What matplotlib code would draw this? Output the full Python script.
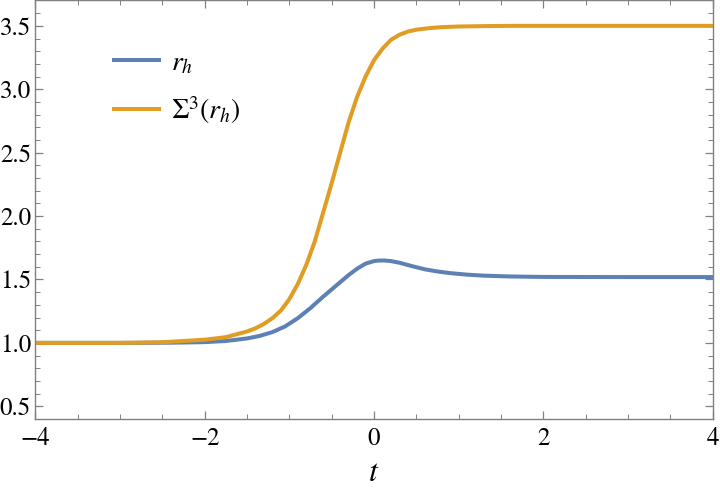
import matplotlib.pyplot as plt
from matplotlib.ticker import MultipleLocator

plt.rcParams["font.family"] = ["STIXGeneral", "DejaVu Serif"]
plt.rcParams["mathtext.fontset"] = "stix"

# values
T_RH = [-4.0, -3.0, -2.5, -2.25, -2.0, -1.75, -1.5, -1.35, -1.2, -1.05, -0.9,
        -0.75, -0.6, -0.45, -0.3, -0.2, -0.1, 0.0, 0.05, 0.12, 0.2, 0.3, 0.45,
        0.6, 0.75, 0.9, 1.1, 1.3, 1.6, 2.0, 3.0, 4.0]
RH = [1.0, 1.0, 1.001, 1.003, 1.006, 1.015, 1.035, 1.055, 1.085, 1.13, 1.195,
      1.275, 1.365, 1.45, 1.535, 1.585, 1.625, 1.645, 1.649, 1.65, 1.645, 1.632, 1.605,
      1.58, 1.563, 1.55, 1.538, 1.53, 1.524, 1.52, 1.519, 1.519]

T_SIG = [-4.0, -3.0, -2.5, -2.0, -1.75, -1.5, -1.4, -1.3, -1.2, -1.1, -1.0,
         -0.9, -0.8, -0.7, -0.6, -0.5, -0.4, -0.3, -0.2, -0.1, 0.0, 0.1, 0.2,
         0.3, 0.4, 0.5, 0.65, 0.8, 1.0, 1.3, 1.6, 2.0, 3.0, 4.0]
SIG3 = [1.0, 1.0, 1.005, 1.025, 1.045, 1.09, 1.115, 1.15, 1.195, 1.255, 1.345,
        1.465, 1.615, 1.80, 2.03, 2.26, 2.50, 2.74, 2.94, 3.10, 3.23, 3.32, 3.39,
        3.43, 3.455, 3.47, 3.482, 3.49, 3.495, 3.498, 3.5, 3.5, 3.5, 3.5]

BLUE = "#5e81b5"
ORANGE = "#e19c24"
FRAME = "#808080"


def main():
    fig = plt.figure(figsize=(7.2, 4.97), dpi=100)
    ax = fig.add_axes([0.049, 0.157, 0.941, 0.842])

    ax.plot(T_RH, RH, color=BLUE, lw=2.9, label=r"$r_h$")
    ax.plot(T_SIG, SIG3, color=ORANGE, lw=2.9, label=r"$\Sigma^3(r_h)$")

    ax.set_xlim(-4, 4)
    ax.set_ylim(0.4, 3.7)
    ax.xaxis.set_major_locator(MultipleLocator(2))
    ax.xaxis.set_minor_locator(MultipleLocator(0.5))
    ax.yaxis.set_major_locator(MultipleLocator(0.5))
    ax.yaxis.set_minor_locator(MultipleLocator(0.1))

    for spine in ax.spines.values():
        spine.set_color(FRAME)
        spine.set_linewidth(1.0)

    ax.tick_params(which="both", direction="in", top=True, right=True,
                   color=FRAME, labelsize=18)
    ax.tick_params(which="major", length=6, width=0.9)
    ax.tick_params(which="minor", length=3.5, width=0.7)
    ax.tick_params(axis="x", pad=6)
    ax.tick_params(axis="y", pad=3)

    ax.set_xlabel(r"$t$", fontsize=23, labelpad=5)

    ax.legend(loc="upper left", bbox_to_anchor=(0.08, 0.94), frameon=False,
              fontsize=20, handlelength=1.6, handletextpad=0.45,
              labelspacing=0.65)

    fig.savefig("out.png", dpi=100)
    plt.close(fig)


if __name__ == "__main__":
    main()
